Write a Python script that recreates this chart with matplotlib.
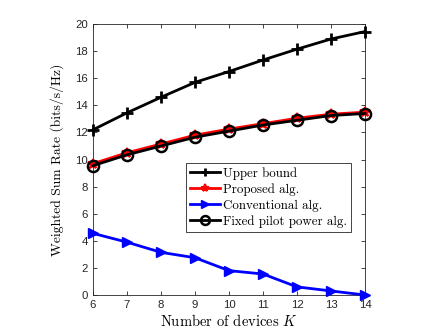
import matplotlib
matplotlib.use("Agg")
import matplotlib.pyplot as plt

# number of devices K
devices = [6, 7, 8, 9, 10, 11, 12, 13, 14]

# weighted sum rate (bits/s/Hz) per scheme
upper_bound = [12.2, 13.45, 14.6, 15.7, 16.5, 17.35, 18.15, 18.9, 19.45]
proposed = [9.7, 10.5, 11.15, 11.8, 12.25, 12.65, 13.05, 13.35, 13.5]
conventional = [4.55, 3.9, 3.15, 2.75, 1.8, 1.55, 0.6, 0.3, 0.0]
fixed_pilot = [9.55, 10.35, 11.0, 11.65, 12.1, 12.55, 12.9, 13.25, 13.4]

y_ticks = list(range(0, 21, 2))

plt.rcParams["mathtext.fontset"] = "cm"
plt.rcParams["font.family"] = ["Liberation Sans", "DejaVu Sans"]

fig = plt.figure(figsize=(4.43, 3.32), dpi=100)
ax = fig.add_axes([0.21, 0.1114, 0.614, 0.816])

ax.plot(devices, upper_bound, color="black", lw=2, marker="+", ms=8, mew=2,
        label="Upper bound", clip_on=False, zorder=3)
ax.plot(devices, proposed, color="red", lw=2, marker="*", ms=7, mew=1.5,
        label="Proposed alg.", clip_on=False, zorder=3)
ax.plot(devices, conventional, color="blue", lw=2, marker=">", ms=7,
        label="Conventional alg.", clip_on=False, zorder=3)
ax.plot(devices, fixed_pilot, color="black", lw=2, marker="o", ms=8, mew=1.8,
        mfc="none", label="Fixed pilot power alg.", clip_on=False, zorder=3)

ax.set_xlim(6, 14)
ax.set_ylim(0, 20)
ax.set_xticks(devices)
ax.set_yticks(y_ticks)
ax.tick_params(direction="in", top=True, right=True, labelsize=8.2,
               colors="#262626", length=3, width=0.6)
for s in ax.spines.values():
    s.set_color("#262626")
    s.set_linewidth(0.6)

ax.set_xlabel("Number of devices $K$", fontsize=10.5, fontname="cmr10",
              labelpad=2)
ax.set_ylabel("Weighted Sum Rate (bits/s/Hz)", fontsize=9.7, fontname="cmr10",
              labelpad=8)

leg = ax.legend(loc="upper right", bbox_to_anchor=(0.949, 0.487),
                prop={"family": "cmr10", "size": 9.3}, fancybox=False,
                edgecolor="#262626", framealpha=1, handlelength=2.35,
                borderpad=0.3, labelspacing=0.28, handletextpad=0.25,
                borderaxespad=0, markerscale=0.8)
leg.get_frame().set_linewidth(0.6)

fig.savefig("out.png", dpi=100)
